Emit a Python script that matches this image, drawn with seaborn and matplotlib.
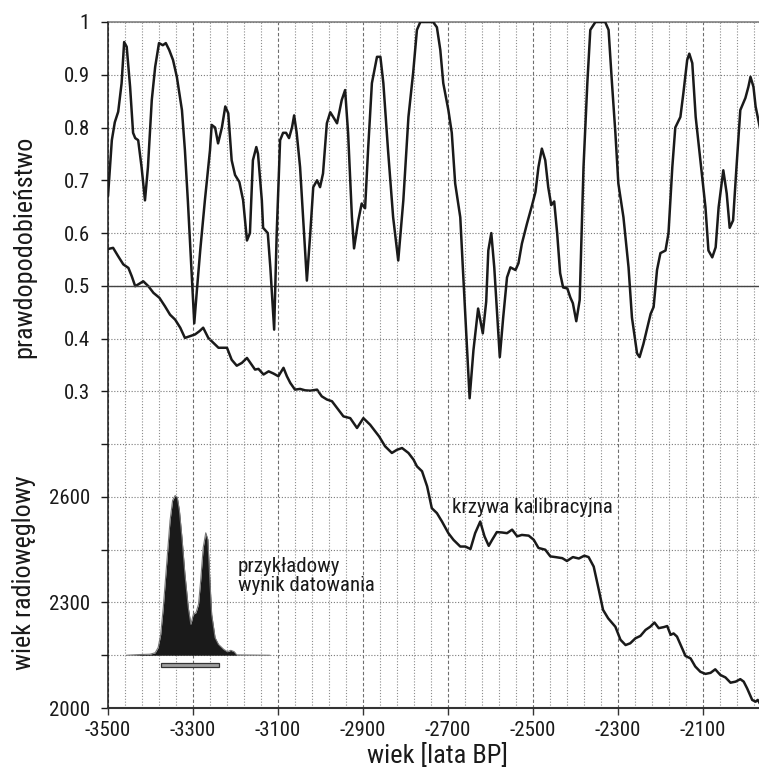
import matplotlib
matplotlib.use("Agg")
import matplotlib.pyplot as plt
import numpy as np
import pandas as pd
import seaborn as sns
from matplotlib import font_manager

# upper curve: probability
prob_years = [
    -3500, -3491, -3484, -3476, -3468, -3462, -3456, -3448, -3441, -3436, -3429, -3421,
    -3413, -3406, -3397, -3389, -3380, -3371, -3364, -3356, -3347, -3338, -3326, -3319,
    -3312, -3297, -3291, -3283, -3272, -3260, -3256, -3248, -3241, -3232, -3224, -3217,
    -3209, -3201, -3191, -3182, -3173, -3166, -3159, -3151, -3147, -3138, -3135, -3124,
    -3118, -3109, -3103, -3095, -3088, -3081, -3074, -3067, -3062, -3056, -3048, -3041,
    -3032, -3024, -3017, -3008, -3001, -2994, -2985, -2977, -2970, -2961, -2950, -2942,
    -2935, -2926, -2921, -2911, -2903, -2895, -2888, -2879, -2867, -2859, -2852, -2841,
    -2829, -2817, -2805, -2793, -2782, -2773, -2765, -2735, -2726, -2718, -2711, -2699,
    -2691, -2683, -2671, -2665, -2649, -2640, -2629, -2618, -2610, -2605, -2598, -2591,
    -2578, -2570, -2561, -2553, -2541, -2534, -2526, -2514, -2502, -2494, -2487, -2479,
    -2471, -2464, -2457, -2450, -2443, -2436, -2429, -2419, -2412, -2406, -2398, -2390,
    -2381, -2372, -2365, -2353, -2330, -2322, -2314, -2306, -2299, -2287, -2275, -2267,
    -2255, -2249, -2240, -2231, -2223, -2216, -2208, -2200, -2188, -2181, -2172, -2165,
    -2153, -2146, -2137, -2132, -2125, -2117, -2106, -2094, -2087, -2078, -2070, -2063,
    -2052, -2044, -2037, -2029, -2021, -2012, -2000, -1993, -1988, -1981, -1976, -1966,
]
prob_values = [
    0.67, 0.776, 0.81, 0.83, 0.884, 0.962, 0.953, 0.877, 0.79, 0.78, 0.776, 0.725,
    0.662, 0.725, 0.852, 0.915, 0.96, 0.956, 0.96, 0.947, 0.928, 0.896, 0.833, 0.757,
    0.66, 0.429, 0.49, 0.567, 0.662, 0.757, 0.805, 0.80, 0.77, 0.80, 0.84, 0.827,
    0.738, 0.71, 0.697, 0.662, 0.586, 0.60, 0.738, 0.763, 0.75, 0.662, 0.61, 0.60,
    0.535, 0.417, 0.60, 0.776, 0.79, 0.79, 0.78, 0.80, 0.823, 0.79, 0.725, 0.63,
    0.51, 0.60, 0.687, 0.70, 0.687, 0.713, 0.808, 0.829, 0.82, 0.808, 0.852, 0.871,
    0.79, 0.63, 0.571, 0.624, 0.656, 0.647, 0.757, 0.884, 0.934, 0.934, 0.884, 0.757,
    0.63, 0.548, 0.662, 0.82, 0.903, 0.985, 1.0, 1.0, 0.99, 0.947, 0.884, 0.833,
    0.79, 0.694, 0.63, 0.535, 0.287, 0.378, 0.457, 0.41, 0.47, 0.567, 0.60, 0.535,
    0.365, 0.44, 0.516, 0.535, 0.53, 0.543, 0.58, 0.618, 0.653, 0.678, 0.725, 0.76,
    0.738, 0.687, 0.653, 0.66, 0.60, 0.524, 0.497, 0.495, 0.478, 0.467, 0.433, 0.473,
    0.725, 0.884, 0.985, 1.0, 1.0, 0.985, 0.884, 0.79, 0.694, 0.63, 0.535, 0.44,
    0.372, 0.365, 0.39, 0.42, 0.447, 0.46, 0.53, 0.562, 0.567, 0.60, 0.725, 0.80,
    0.82, 0.865, 0.928, 0.94, 0.922, 0.82, 0.738, 0.649, 0.567, 0.554, 0.573, 0.649,
    0.719, 0.675, 0.61, 0.624, 0.725, 0.833, 0.856, 0.877, 0.896, 0.877, 0.84, 0.80,
]

# lower curve: calibration curve (radiocarbon age)
calib_years = [
    -3499, -3488, -3476, -3464, -3452, -3444, -3436, -3429, -3417, -3405, -3393, -3379,
    -3366, -3354, -3342, -3330, -3319, -3307, -3295, -3285, -3276, -3264, -3252, -3240,
    -3220, -3209, -3197, -3185, -3173, -3162, -3154, -3146, -3134, -3122, -3111, -3099,
    -3087, -3079, -3071, -3060, -3048, -3036, -3024, -3008, -2997, -2985, -2973, -2961,
    -2946, -2930, -2914, -2899, -2883, -2862, -2848, -2832, -2820, -2808, -2793, -2781,
    -2773, -2761, -2749, -2738, -2726, -2714, -2699, -2687, -2671, -2659, -2647, -2636,
    -2624, -2614, -2604, -2596, -2585, -2573, -2561, -2549, -2537, -2526, -2510, -2498,
    -2487, -2471, -2459, -2447, -2431, -2420, -2406, -2392, -2379, -2369, -2357, -2345,
    -2335, -2323, -2306, -2294, -2282, -2271, -2259, -2247, -2235, -2224, -2214, -2204,
    -2192, -2184, -2176, -2169, -2161, -2149, -2141, -2129, -2118, -2106, -2094, -2082,
    -2071, -2059, -2047, -2035, -2023, -2012, -2004, -1996, -1984, -1976, -1971, -1966,
]
calib_c14 = [
    3305, 3308, 3284, 3261, 3251, 3227, 3199, 3204, 3213, 3199, 3180, 3166,
    3142, 3118, 3104, 3081, 3052, 3057, 3062, 3071, 3081, 3052, 3038, 3024,
    3024, 2990, 2973, 2981, 2995, 2976, 2962, 2964, 2948, 2957, 2951, 2943,
    2967, 2943, 2924, 2905, 2907, 2903, 2902, 2905, 2886, 2877, 2872, 2853,
    2829, 2824, 2796, 2824, 2805, 2772, 2744, 2725, 2734, 2739, 2725, 2706,
    2687, 2673, 2630, 2568, 2554, 2530, 2497, 2478, 2459, 2459, 2452, 2497,
    2530, 2488, 2461, 2478, 2500, 2499, 2497, 2507, 2488, 2492, 2490, 2478,
    2455, 2450, 2431, 2429, 2426, 2418, 2429, 2425, 2433, 2429, 2402, 2336,
    2279, 2255, 2231, 2194, 2179, 2184, 2198, 2205, 2222, 2231, 2243, 2227,
    2230, 2233, 2208, 2212, 2203, 2170, 2148, 2141, 2118, 2103, 2097, 2100,
    2110, 2094, 2087, 2072, 2075, 2082, 2075, 2056, 2023, 2018, 2023, 2013,
]

# example dating result (calibrated distribution, height above its baseline)
dating_years = [
    -3456, -3425, -3401, -3389, -3382, -3376, -3370, -3362, -3354, -3348, -3342, -3337,
    -3332, -3326, -3319, -3311, -3305, -3299, -3293, -3287, -3282, -3276, -3270, -3265,
    -3261, -3256, -3248, -3240, -3228, -3219, -3211, -3203, -3197, -3119,
]
dating_height = [
    0, 2, 3, 7, 22, 59, 135, 259, 383, 440, 454, 449,
    412, 335, 231, 135, 88, 117, 121, 145, 211, 306, 348, 329,
    230, 116, 50, 31, 17, 10, 14, 10, 1, 0,
]
dating_base = 2150
range_start = -3375
range_end = -3239
range_level = 2123

c14_ticks = [2000, 2150, 2300, 2450, 2600, 2750]
c14_labels = ["2000", "", "2300", "", "2600", ""]
prob_ticks = [0.3, 0.4, 0.5, 0.6, 0.7, 0.8, 0.9, 1.0]
prob_labels = ["0.3", "0.4", "0.5", "0.6", "0.7", "0.8", "0.9", "1"]

sns.set_theme(style="white")
installed = {f.name for f in font_manager.fontManager.ttflist}
narrow = [n for n in ["Roboto Condensed", "Archivo Narrow", "PT Sans Narrow", "Pragati Narrow",
                      "Liberation Sans Narrow", "Fira Sans Condensed", "IBM Plex Sans Condensed",
                      "Encode Sans Condensed", "Asap Condensed"] if n in installed]
plt.rcParams["font.family"] = narrow[:1] + ["DejaVu Sans"]
plt.rcParams["axes.unicode_minus"] = False

ink = "#1a1a1a"
dot = (0, (1, 1.6))

fig = plt.figure(figsize=(7.59, 7.69), dpi=100)
ax = fig.add_axes([0.1423, 0.0793, 0.8577, 0.8921])
ax2 = ax.twinx()

# grid
ax.set_xticks(np.arange(-3500, -2000, 200))
ax.set_xticks(np.arange(-3460, -1960, 40), minor=True)
ax.grid(axis="x", which="major", color="#6e6e6e", linestyle=(0, (3, 2)), linewidth=0.8)
ax.grid(axis="x", which="minor", color="#8c8c8c", linestyle=dot, linewidth=0.8)
ax.set_yticks(c14_ticks, c14_labels)
ax.grid(axis="y", which="major", color="#7a7a7a", linestyle=dot, linewidth=0.8)
ax2.set_yticks(prob_ticks, prob_labels)
ax2.grid(axis="y", color="#7a7a7a", linestyle=dot, linewidth=0.8)
ax2.grid(axis="x", visible=False)
ax2.axhline(0.5, color="#444444", linewidth=1.0)

# dating result
ax.fill_between(dating_years, dating_base, np.array(dating_height) + dating_base, color=ink, linewidth=0)
sns.lineplot(x=dating_years, y=np.array(dating_height) + dating_base, ax=ax, color="#777777", linewidth=0.8)
ax.barh(range_level, range_end - range_start, left=range_start, height=11,
        color="#a0a0a0", edgecolor="#333333", linewidth=0.9)

# curves
sns.lineplot(x=calib_years, y=calib_c14, ax=ax, color=ink, linewidth=1.8)
sns.lineplot(x=prob_years, y=prob_values, ax=ax2, color=ink, linewidth=1.8)

ax.set_xlim(-3500, -1968)
ax.set_ylim(2000, 3950)
ax2.set_ylim(-0.3, 1.0)

# axes cosmetics
ax.spines["right"].set_visible(False)
for s in ax2.spines.values():
    s.set_visible(False)
ax.spines["left"].set_color(ink)
ax.spines["left"].set_linewidth(1.1)
ax.spines["bottom"].set_color("#333333")
ax.spines["bottom"].set_linewidth(1.5)
ax.spines["top"].set_color("#777777")
ax.spines["top"].set_linewidth(1.1)

ax.tick_params(axis="x", which="major", bottom=True, length=5, width=1, color="#333333",
               labelsize=15, pad=4.5, labelcolor=ink)
ax.tick_params(axis="x", which="minor", bottom=False, length=0)
ax.tick_params(axis="y", left=True, length=5, width=1, color=ink, labelsize=15, pad=8, labelcolor=ink)
ax2.yaxis.tick_left()
ax2.tick_params(axis="y", left=True, right=False, labelleft=True, labelright=False,
                length=5, width=1, color=ink, labelsize=15, pad=8, labelcolor=ink)

ax.set_xlabel("wiek [lata BP]", fontsize=19, color=ink, va="center")
ax.xaxis.set_label_coords(0.506, -(755 - 708) / 686)
ax.set_ylabel("")
fig.text(0.032, 1 - 246.5 / 769, "prawdopodobieństwo", rotation=90, ha="center", va="center",
         fontsize=18.8, color=ink)
fig.text(0.032, 1 - 573 / 769, "wiek radiowęglowy", rotation=90, ha="center", va="center",
         fontsize=18.8, color=ink)

ax.text(-2690, 2555, "krzywa kalibracyjna", fontsize=15, color=ink, va="baseline")
ax.text(-3194, 2375, "przykładowy\nwynik datowania", fontsize=15, color=ink,
        va="center", ha="left", linespacing=1.05)

fig.savefig("out.png", dpi=100)
